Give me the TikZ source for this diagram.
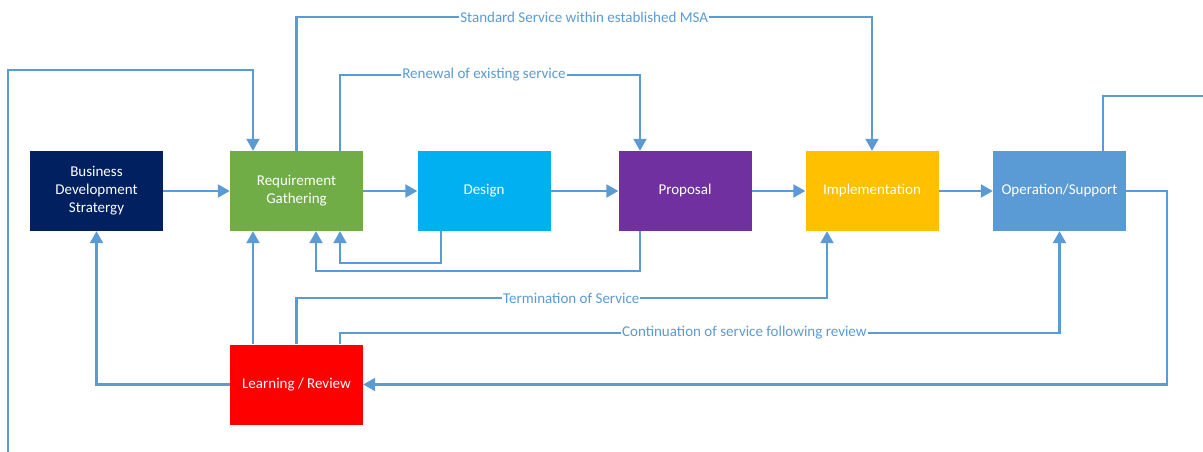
\documentclass[tikz,border=0pt]{standalone}
\usepackage{fontspec}
\setmainfont{Carlito}
\usetikzlibrary{arrows.meta}
\definecolor{ln}{HTML}{5B9BD5}
\definecolor{cbds}{HTML}{002060}
\definecolor{crg}{HTML}{70AD47}
\definecolor{cdes}{HTML}{00B0F0}
\definecolor{cprop}{HTML}{7030A0}
\definecolor{cimpl}{HTML}{FFC000}
\definecolor{cop}{HTML}{5B9BD5}
\definecolor{clr}{HTML}{FF0000}
\begin{document}
\begin{tikzpicture}[x=1pt,y=-1pt,
  box/.style={minimum width=133pt, minimum height=80pt, inner sep=0pt, text=white,
    font=\fontsize{15}{18}\selectfont, align=center},
  conn/.style={draw=ln, line width=2.2pt, -{Triangle[length=12pt,width=13pt]}},
  plain/.style={draw=ln, line width=2.2pt},
  lbl/.style={fill=white, text=ln, inner sep=1pt, font=\fontsize{15}{18}\selectfont}]
\useasboundingbox (0,0) rectangle (1203,452);
\node[box, fill=cbds] (bds) at (96.5,191) {Business\\Development\\Stratergy};
\node[box, fill=crg] (rg) at (296.5,191) {Requirement\\Gathering};
\node[box, fill=cdes] (des) at (484,191) {Design};
\node[box, fill=cprop] (prop) at (685,191) {Proposal};
\node[box, fill=cimpl] (impl) at (872,191) {Implementation};
\node[box, fill=cop] (op) at (1059.5,191) {Operation/Support};
\node[box, fill=clr] (lr) at (296.5,384.5) {Learning / Review};
\coordinate (lb) at (8,452);
\coordinate (rt) at (1203,96);
% main flow
\draw[conn] (bds) -- (rg);
\draw[conn] (rg) -- (des);
\draw[conn] (des) -- (prop);
\draw[conn] (prop) -- (impl);
\draw[conn] (impl) -- (op);
% left loop in
\draw[conn] (lb) -- (8,70) -| ([xshift=-43.5pt]rg.north);
% top routes
\draw[conn] (rg.north) -- (296.5,17) -| (impl.north)
  node[lbl, pos=0.25] {Standard Service within established MSA};
\draw[conn] ([xshift=43.5pt]rg.north) -- (340,75) -| ([xshift=-45pt]prop.north)
  node[lbl, pos=0.24] {Renewal of existing service};
\draw[plain] ([xshift=43.5pt]op.north) |- (rt);
% feedback to requirement gathering
\draw[conn] ([xshift=-43pt]des.south) -- (441,263) -| ([xshift=43.5pt]rg.south);
\draw[conn] ([xshift=-45pt]prop.south) -- (640,271) -| ([xshift=19.5pt]rg.south);
% review loop
\draw[conn] (op.east) -- (1167,191) |- (lr.east);
\draw[conn] (lr.west) -| (bds.south);
\draw[conn] ([xshift=-43.5pt]lr.north) -- ([xshift=-43.5pt]rg.south);
\draw[conn] (lr.north) -- (296.5,298) -| ([xshift=-45pt]impl.south)
  node[lbl, pos=0.259] {Termination of Service};
\draw[conn] ([xshift=43.5pt]lr.north) -- (340,333) -| (op.south)
  node[lbl, pos=0.281] {Continuation of service following review};
\end{tikzpicture}
\end{document}
